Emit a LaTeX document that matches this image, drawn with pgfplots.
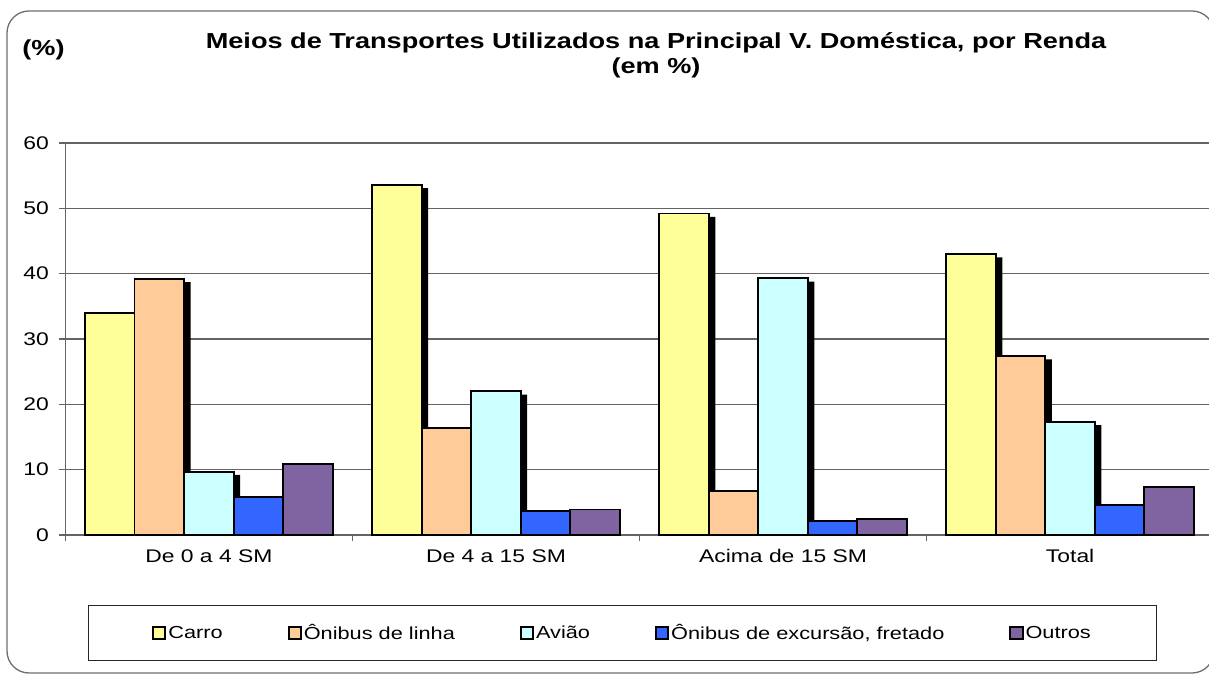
\documentclass[border=0pt]{standalone}
\usepackage{pgfplots}
\pgfplotsset{compat=1.18}
\usepackage{pgfplotstable}
\usepackage{fontspec}
\setmainfont{Liberation Sans}[FakeStretch=1.25]
\definecolor{cCarro}{HTML}{FFFF99}
\definecolor{cOnibus}{HTML}{FFCC99}
\definecolor{cAviao}{HTML}{CCFFFF}
\definecolor{cExc}{HTML}{3366FF}
\definecolor{cOutros}{HTML}{8064A2}
\definecolor{axisgray}{RGB}{100,100,100}
\definecolor{framegray}{RGB}{110,110,110}
\pgfplotstableread{
g carro onibus aviao exc outros
0 34.0 39.2 9.7 5.8 10.9
1 53.6 16.4 22.0 3.7 3.9
2 49.2 6.7 39.3 2.1 2.4
3 43.0 27.4 17.3 4.6 7.4
}\data
\pgfplotsset{
  sqleg/.style={legend image code/.code={%
    \fill[black] (0pt,-6.5pt) rectangle (13pt,6.5pt);
    \fill[#1] (2pt,-4.5pt) rectangle (11pt,4.5pt);}},
  barst/.style={ybar, bar width=49.5pt, draw=black, line width=1.8pt, forget plot},
  shad/.style={ybar, bar width=49.5pt, fill=black, draw=none, forget plot},
}
\begin{document}
\begin{tikzpicture}[x=1pt,y=1pt]
\useasboundingbox (0,0) rectangle (1209,675);
\draw[framegray, line width=1.3pt, rounded corners=22pt] (7,2) rectangle (1214,664);
\node[font=\bfseries\fontsize{21.7}{24}\selectfont] at (656,632.5) {Meios de Transportes Utilizados na Principal V. Doméstica, por Renda};
\node[font=\bfseries\fontsize{21.7}{24}\selectfont] at (656,607.5) {(em \%)};
\node[font=\bfseries\fontsize{21.7}{24}\selectfont] at (43.5,625) {(\%)};
\begin{axis}[
  at={(65.3pt,140pt)}, anchor=south west, scale only axis,
  width=1143.7pt, height=392pt,
  xmin=-0.5, xmax=3.4836, ymin=0, ymax=60,
  axis x line=bottom, axis y line=left,
  axis line style={-, draw=axisgray, line width=1.3pt},
  ytick={0,10,...,60},
  xtick={0,1,2,3},
  xticklabels={De 0 a 4 SM, De 4 a 15 SM, Acima de 15 SM, Total},
  minor xtick={-0.5,0.5,1.5,2.5},
  every major x tick/.append style={draw=none},
  every minor x tick/.append style={draw=axisgray, line width=1.3pt},
  every major y tick/.append style={draw=axisgray, line width=1.3pt},
  major tick length=6pt, minor tick length=6pt, tick align=outside,
  ymajorgrids, major grid style={draw=axisgray, line width=1.2pt},
  /pgf/number format/assume math mode=true,
  yticklabel style={font=\fontsize{18.3}{20}\selectfont, xshift=-7pt},
  xticklabel style={font=\fontsize{18.3}{20}\selectfont, yshift=-5pt},
  legend style={at={(0.4872,-0.25)}, anchor=center, legend columns=5,
    draw=black!85, line width=1.1pt, font=\fontsize{17.4}{20}\selectfont,
    inner xsep=64pt, inner ysep=17.5pt,
    /tikz/every even column/.append style={column sep=63pt}},
  clip=false,
]
\addplot[shad, bar shift=-99pt+6.5pt] table[x=g, y expr=\thisrow{carro}-0.5]{\data};
\addplot[shad, bar shift=-49.5pt+6.5pt] table[x=g, y expr=\thisrow{onibus}-0.5]{\data};
\addplot[shad, bar shift=0pt+6.5pt] table[x=g, y expr=\thisrow{aviao}-0.5]{\data};
\addplot[shad, bar shift=49.5pt+6.5pt] table[x=g, y expr=\thisrow{exc}-0.5]{\data};
\addplot[barst, fill=cCarro, bar shift=-99pt] table[x=g, y=carro]{\data};
\addplot[barst, fill=cOnibus, bar shift=-49.5pt] table[x=g, y=onibus]{\data};
\addplot[barst, fill=cAviao, bar shift=0pt] table[x=g, y=aviao]{\data};
\addplot[barst, fill=cExc, bar shift=49.5pt] table[x=g, y=exc]{\data};
\addplot[barst, fill=cOutros, bar shift=99pt] table[x=g, y=outros]{\data};
\addlegendimage{sqleg=cCarro}
\addlegendentry{Carro}
\addlegendimage{sqleg=cOnibus}
\addlegendentry{Ônibus de linha}
\addlegendimage{sqleg=cAviao}
\addlegendentry{Avião}
\addlegendimage{sqleg=cExc}
\addlegendentry{Ônibus de excursão, fretado}
\addlegendimage{sqleg=cOutros}
\addlegendentry{Outros}
\end{axis}
\end{tikzpicture}
\end{document}
